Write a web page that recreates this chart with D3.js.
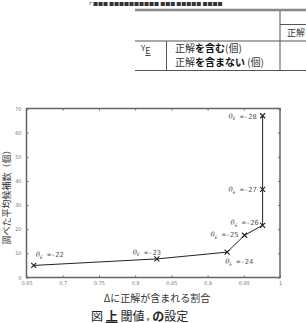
<!DOCTYPE html>
<html>
<head>
<meta charset="utf-8">
<script src="https://cdn.jsdelivr.net/npm/d3@7"></script>
<style>
	body { margin: 0; background: #fff; }
	svg { display: block; }
</style>
</head>
<body>
<svg id="chart" width="306" height="323"></svg>
<script>
// data
const thetas = [-22, -23, -24, -25, -26, -27, -28];
const ratios = [0.66, 0.83, 0.927, 0.951, 0.976, 0.976, 0.976];
const candidates = [5.0, 7.7, 10.5, 17.5, 21.6, 36.5, 67.0];
const xTicks = [0.65, 0.7, 0.75, 0.8, 0.85, 0.9, 0.95, 1];
const yTicks = [0, 10, 20, 30, 40, 50, 60, 70];

const points = thetas.map((t, i) => ({theta: t, x: ratios[i], y: candidates[i]}));

const jp = '"Noto Sans CJK JP", sans-serif';
const svg = d3.select('#chart');

// --- table fragment at top of the page ---
const tbl = svg.append('g').attr('stroke', '#555').attr('fill', 'none');
tbl.append('line').attr('x1', 135).attr('x2', 306).attr('y1', 10).attr('y2', 10).attr('stroke-width', 2.5).attr('stroke', '#888');
tbl.append('line').attr('x1', 280).attr('x2', 280).attr('y1', 11).attr('y2', 70.5);
tbl.append('line').attr('x1', 280).attr('x2', 306).attr('y1', 24.5).attr('y2', 24.5);
tbl.append('line').attr('x1', 135).attr('x2', 306).attr('y1', 41).attr('y2', 41);
tbl.append('line').attr('x1', 166.5).attr('x2', 166.5).attr('y1', 41).attr('y2', 70.5);
tbl.append('line').attr('x1', 135).attr('x2', 306).attr('y1', 70.5).attr('y2', 70.5);

svg.append('text').attr('x', 88).attr('y', 5).attr('font-size', 5).attr('font-family', jp)
	.attr('fill', '#333').text('ｒ■■■ ■■■■■■■■■■ ■■■ ■■■■■ ■■■■');

svg.append('text').attr('x', 287).attr('y', 36).attr('font-size', 9).attr('font-family', jp).attr('fill', '#333').text('正解');
const ye = svg.append('text').attr('x', 141).attr('y', 51).attr('font-size', 8).attr('font-family', jp).attr('fill', '#333');
ye.append('tspan').text('Y');
ye.append('tspan').attr('dy', 3).attr('font-size', 9).attr('text-decoration', 'underline').text('E');

const r1 = svg.append('text').attr('x', 175).attr('y', 52).attr('font-size', 10).attr('font-family', jp).attr('fill', '#333');
r1.append('tspan').text('正解');
r1.append('tspan').attr('font-weight', 'bold').attr('fill', '#111').text('を含む');
r1.append('tspan').text('(個)');
const r2 = svg.append('text').attr('x', 175).attr('y', 66).attr('font-size', 10).attr('font-family', jp).attr('fill', '#333');
r2.append('tspan').text('正解');
r2.append('tspan').attr('font-weight', 'bold').attr('fill', '#111').text('を含まない');
r2.append('tspan').text(' (個)');

// --- chart ---
const x = d3.scaleLinear().domain([0.65, 1]).range([26.5, 280]);
const y = d3.scaleLinear().domain([0, 70]).range([277.5, 108.5]);

const axisCol = '#666';
const fmt = d => d3.format('~g')(d);

function styleAxis(g) {
	g.select('.domain').remove();
	g.selectAll('.tick line').attr('stroke', axisCol).attr('stroke-width', 1);
	g.selectAll('.tick text').attr('fill', '#777').attr('font-size', 5).attr('font-family', 'DejaVu Sans');
}

svg.append('g').attr('transform', `translate(0,${y(0)})`)
	.call(d3.axisBottom(x).tickValues(xTicks).tickSize(-2).tickPadding(4).tickFormat(fmt))
	.call(styleAxis);
svg.append('g').attr('transform', `translate(0,${y(70)})`)
	.call(d3.axisTop(x).tickValues(xTicks).tickSize(-2).tickFormat(''))
	.call(styleAxis);
svg.append('g').attr('transform', `translate(${x(0.65)},0)`)
	.call(d3.axisLeft(y).tickValues(yTicks).tickSize(-2).tickPadding(5).tickFormat(fmt))
	.call(styleAxis);
svg.append('g').attr('transform', `translate(${x(1)},0)`)
	.call(d3.axisRight(y).tickValues(yTicks).tickSize(-2).tickFormat(''))
	.call(styleAxis);

svg.append('rect')
	.attr('x', x(0.65)).attr('y', y(70))
	.attr('width', x(1) - x(0.65)).attr('height', y(0) - y(70))
	.attr('fill', 'none').attr('stroke', axisCol).attr('stroke-width', 1.5);

const line = d3.line().x(d => x(d.x)).y(d => y(d.y));
svg.append('path').datum(points)
	.attr('d', line)
	.attr('fill', 'none').attr('stroke', '#222').attr('stroke-width', 1);

const s = 2.5;
svg.append('g').selectAll('path').data(points).join('path')
	.attr('d', d => {
		const cx = x(d.x), cy = y(d.y);
		return `M${cx - s},${cy - s}L${cx + s},${cy + s}M${cx - s},${cy + s}L${cx + s},${cy - s}`;
	})
	.attr('stroke', '#222').attr('stroke-width', 1.1);

// label placement around each marker
const labelPos = {
	'-22': {dx: 2, dy: -8, anchor: 'start'},
	'-23': {dx: 4, dy: -4, anchor: 'end'},
	'-24': {dx: -2, dy: 12, anchor: 'start'},
	'-25': {dx: -6, dy: 2, anchor: 'end'},
	'-26': {dx: -4, dy: 0, anchor: 'end'},
	'-27': {dx: -6, dy: 3, anchor: 'end'},
	'-28': {dx: -6, dy: 3, anchor: 'end'}
};

const labels = svg.append('g').selectAll('text').data(points).join('text')
	.attr('x', d => x(d.x) + labelPos[d.theta].dx)
	.attr('y', d => y(d.y) + labelPos[d.theta].dy)
	.attr('text-anchor', d => labelPos[d.theta].anchor)
	.attr('fill', '#555')
	.attr('font-size', 7)
	.attr('font-family', 'DejaVu Sans Mono');
labels.append('tspan').attr('font-family', 'DejaVu Serif').attr('font-style', 'italic').text('θ');
labels.append('tspan').attr('font-size', 4.5).attr('dy', 1.5).attr('font-style', 'italic').text('E');
labels.append('tspan').attr('dy', -1.5).text(d => ' =-' + Math.abs(d.theta));

// axis titles
svg.append('text')
	.attr('transform', `translate(10,${(y(0) + y(70)) / 2 + 2}) rotate(-90)`)
	.attr('text-anchor', 'middle')
	.attr('font-size', 9).attr('font-family', jp).attr('fill', '#333')
	.text('調べた平均候補数（個）');

svg.append('text')
	.attr('x', 157).attr('y', 302)
	.attr('text-anchor', 'middle')
	.attr('font-size', 10).attr('font-family', jp).attr('fill', '#333')
	.text('Δに正解が含まれる割合');

const cap = svg.append('text')
	.attr('x', 91).attr('y', 321)
	.attr('font-size', 12).attr('font-family', jp).attr('fill', '#222');
cap.append('tspan').text('図 ');
cap.append('tspan').attr('font-weight', 'bold').attr('text-decoration', 'underline').text('上');
cap.append('tspan').text(' 閾値 ');
cap.append('tspan').attr('font-size', 5).text('ᴇ');
cap.append('tspan').text(' ');
cap.append('tspan').attr('font-weight', 'bold').text('の');
cap.append('tspan').text('設定');
</script>
</body>
</html>
